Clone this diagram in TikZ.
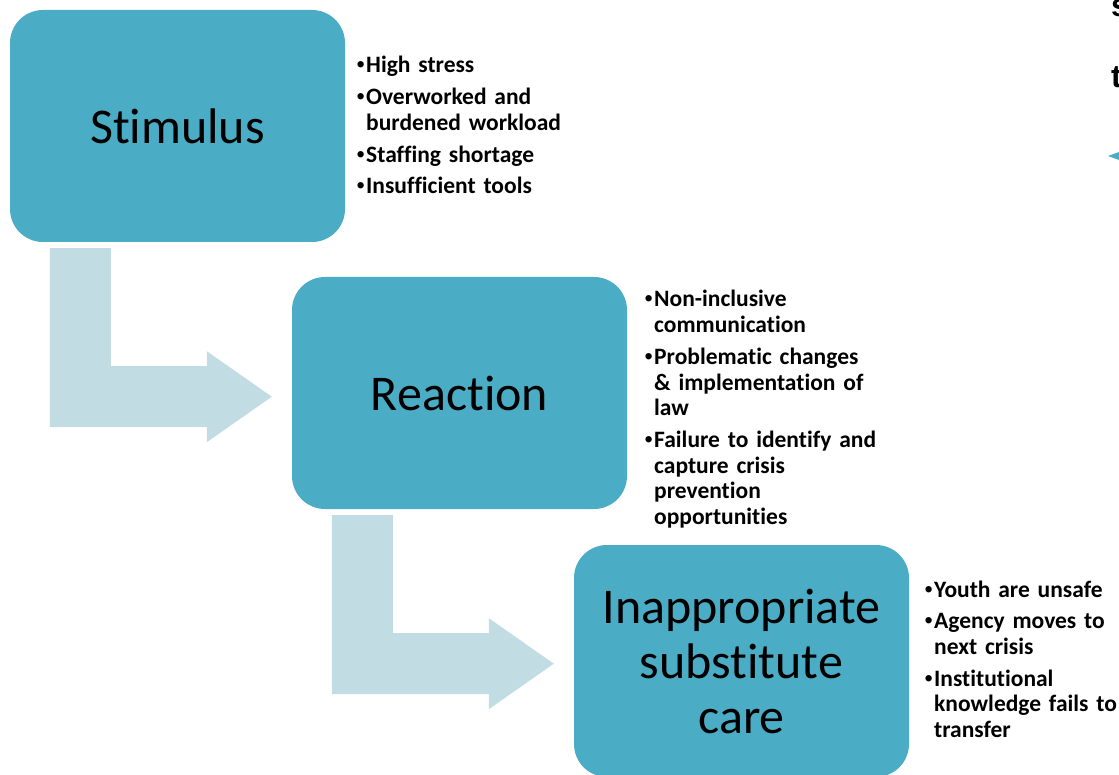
\documentclass[tikz,border=0pt]{standalone}
\usepackage{fontspec}
\setmainfont{Carlito}[Ligatures=CommonOff]
\newfontfamily\sidefont{Liberation Sans}
\usetikzlibrary{calc}
\definecolor{boxteal}{HTML}{4BACC6}
\definecolor{arrowpale}{HTML}{C2DCE4}

% one bulleted item with a hanging indent; \\ breaks a line inside the item
\newcommand\bul[1]{\ifhmode\unskip\fi\noindent\hangindent=11pt\hangafter=1%
  \makebox[11pt][l]{\hspace{1.5pt}{\sidefont\mdseries •}}#1\par}
% line breaks inside an item keep the hanging indent
\newcommand\itemlines{\def\\{\hfil\break}\setlength\parskip{6pt}}
% bent (down-then-right) block arrow starting at its top-left corner
\newcommand\bentarrow[1]{\fill[bendarrow] (#1) -- ++(61,0) -- ++(0,118) -- ++(96,0)
  -- ++(0,-15) -- ++(65,45.5) -- ++(-65,45.5) -- ++(0,-15) -- ++(-157,0) -- cycle;}

\begin{document}
\begin{tikzpicture}[x=1pt,y=-1pt,
  stagebox/.style={fill=boxteal, rounded corners=33pt, minimum width=335pt,
    minimum height=232pt, inner sep=0pt, align=center, text=black,
    font=\fontsize{50}{55}\selectfont},
  bendarrow/.style={fill=arrowpale},
  notes/.style={anchor=base west, inner sep=0pt, text width=260pt,
    font=\bfseries\fontsize{23.5}{25.7}\selectfont},
  sidetext/.style={anchor=base west, inner sep=0pt,
    font=\sidefont\bfseries\fontsize{32}{32}\selectfont}]
\useasboundingbox (0,0) rectangle (1119,775);
\clip (0,0) rectangle (1119,775);

% stage boxes
\node[stagebox] (stim)  at (177.5,126) {Stimulus};
\node[stagebox] (react) at (459.5,393) {Reaction};
\node[stagebox] (care)  at (741.5,661) {Inappropriate\\substitute\\care};

% bent arrows leading from each box to the next
\path (stim.south west)  ++(40,6) coordinate (a1);
\path (react.south west) ++(40,6) coordinate (a2);
\bentarrow{a1}
\bentarrow{a2}

% bullet notes beside each box
\node[notes] (n1) at (355,73) {\itemlines%
  \bul{High stress}%
  \bul{Overworked and\\burdened workload}%
  \bul{Staffing shortage}%
  \bul{Insufficient tools}};
\node[notes] (n2) at (643,307) {\itemlines%
  \bul{Non-inclusive\\communication}%
  \bul{Problematic changes\\\& implementation of\\law}%
  \bul{Failure to identify and\\capture crisis\\prevention\\opportunities}};
\node[notes] (n3) at (923,597) {\itemlines%
  \bul{Youth are unsafe}%
  \bul{Agency moves to\\next crisis}%
  \bul{Institutional\\knowledge fails to\\transfer}};

% pieces of neighbouring content at the right edge
\node[sidetext] (s1) at (1111,17) {s};
\node[sidetext] (s2) at (1111,88) {t};
\fill[boxteal] (1108,156) -- (1130,148) -- (1130,164) -- cycle;
\end{tikzpicture}
\end{document}
